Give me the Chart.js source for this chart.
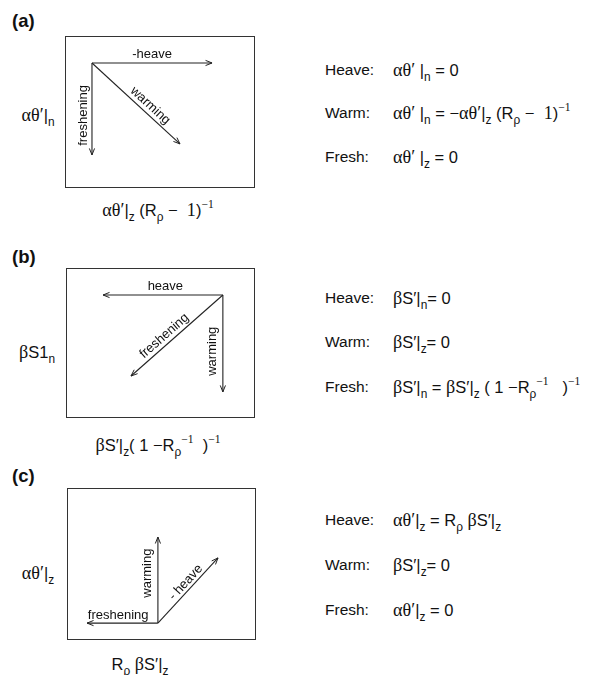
<!DOCTYPE html>
<html>
<head>
<meta charset="utf-8">
<script src="https://cdn.jsdelivr.net/npm/chart.js@4.4.1/dist/chart.umd.min.js"></script>
<style>
  body { margin: 0; background: #fff; }
  #page { position: relative; width: 608px; height: 675px; font-family: "Liberation Sans", Arial, sans-serif; color: #111; overflow: hidden; }
  .t { position: absolute; white-space: nowrap; line-height: 1; font-size: 15.5px; }
  .f { font-size: 16.5px; }
  .c { transform: translate(-50%, -50%); }
  .l { transform: translateY(-50%); }
  .tag { font-weight: bold; font-size: 18.5px; }
  .g { font-family: "Liberation Serif", "DejaVu Serif", serif; font-size: 1.1em; }
  sub { font-size: 0.72em; vertical-align: -0.45em; line-height: 0; }
  sup { font-size: 0.7em; vertical-align: 0.7em; line-height: 0; font-family: "Liberation Serif", serif; }
  .panel { position: absolute; }
</style>
</head>
<body>
<div id="page">
  <!-- panel tags -->
  <div class="t l tag" style="left:12px;top:21px">(a)</div>
  <div class="t l tag" style="left:12px;top:257px">(b)</div>
  <div class="t l tag" style="left:12px;top:476px">(c)</div>

  <!-- axis titles -->
  <div class="t c f" style="left:38px;top:115px"><span class="g">αθ′</span>|<sub>n</sub></div>
  <div class="t c f" style="left:158px;top:210px"><span class="g">αθ′</span>|<sub>z</sub> (R<sub>ρ</sub> − &nbsp;<span class="g">1</span>)<sup>−1</sup></div>
  <div class="t c f" style="left:37px;top:352px"><span class="g">β</span>S1<sub>n</sub></div>
  <div class="t c f" style="left:158px;top:445px"><span class="g">β</span>S′|<sub>z</sub>( 1 −R<sub>ρ</sub><sup>−1</sup> &nbsp;)<sup>−1</sup></div>
  <div class="t c f" style="left:38px;top:573px"><span class="g">αθ′</span>|<sub>z</sub></div>
  <div class="t c f" style="left:140px;top:664px">R<sub>ρ</sub> <span class="g">β</span>S′|<sub>z</sub></div>

  <!-- relations (a) -->
  <div class="t l" style="left:325px;top:70px">Heave:</div>
  <div class="t l f" style="left:393px;top:70px"><span class="g">αθ′</span> |<sub>n</sub> = 0</div>
  <div class="t l" style="left:325px;top:113px">Warm:</div>
  <div class="t l f" style="left:393px;top:113px"><span class="g">αθ′</span> |<sub>n</sub> = −<span class="g">αθ′</span>|<sub>z</sub> (R<sub>ρ</sub> − &nbsp;<span class="g">1</span>)<sup>−1</sup></div>
  <div class="t l" style="left:325px;top:157px">Fresh:</div>
  <div class="t l f" style="left:393px;top:157px"><span class="g">αθ′</span> |<sub>z</sub> = 0</div>

  <!-- relations (b) -->
  <div class="t l" style="left:325px;top:298px">Heave:</div>
  <div class="t l f" style="left:393px;top:298px"><span class="g">β</span>S′|<sub>n</sub>= 0</div>
  <div class="t l" style="left:325px;top:342px">Warm:</div>
  <div class="t l f" style="left:393px;top:342px"><span class="g">β</span>S′|<sub>z</sub>= 0</div>
  <div class="t l" style="left:325px;top:387px">Fresh:</div>
  <div class="t l f" style="left:393px;top:387px"><span class="g">β</span>S′|<sub>n</sub> = <span class="g">β</span>S′|<sub>z</sub> ( 1 −R<sub>ρ</sub><sup>−1</sup> &nbsp;&nbsp;)<sup>−1</sup></div>

  <!-- relations (c) -->
  <div class="t l" style="left:325px;top:520px">Heave:</div>
  <div class="t l f" style="left:393px;top:520px"><span class="g">αθ′</span>|<sub>z</sub> = R<sub>ρ</sub> <span class="g">β</span>S′|<sub>z</sub></div>
  <div class="t l" style="left:325px;top:565px">Warm:</div>
  <div class="t l f" style="left:393px;top:565px"><span class="g">β</span>S′|<sub>z</sub>= 0</div>
  <div class="t l" style="left:325px;top:610px">Fresh:</div>
  <div class="t l f" style="left:393px;top:610px"><span class="g">αθ′</span>|<sub>z</sub> = 0</div>

  <!-- the three vector boxes -->
  <div class="panel" style="left:63px;top:34px;width:194px;height:156px"><canvas id="chartA"></canvas></div>
  <div class="panel" style="left:64px;top:266px;width:193px;height:154px"><canvas id="chartB"></canvas></div>
  <div class="panel" style="left:65px;top:486px;width:193px;height:156px"><canvas id="chartC"></canvas></div>
</div>

<script>
// 面板 (a)：每個箭頭由同一原點出發
const labelsA = ['-heave', 'freshening', 'warming'];
const originA = { x: 1.42, y: 6.58 };
const tipsAX = [7.74, 1.42, 6.05];
const tipsAY = [6.58, 1.74, 2.32];

// 面板 (b)
const labelsB = ['heave', 'freshening', 'warming'];
const originB = { x: 8.3, y: 6.56 };
const tipsBX = [1.96, 3.44, 8.3];
const tipsBY = [6.56, 2.24, 1.39];

// 面板 (c)
const labelsC = ['freshening', 'warming', '- heave'];
const originC = { x: 4.81, y: 0.89 };
const tipsCX = [1.06, 4.81, 7.99];
const tipsCY = [0.89, 5.42, 4.32];

// 框線
const boxPlugin = {
    id: 'box',
    beforeDraw(chart) {
        const { ctx, chartArea: a } = chart;
        ctx.save();
        ctx.strokeStyle = '#333';
        ctx.lineWidth = 1;
        ctx.strokeRect(a.left + 0.5, a.top + 0.5, a.right - a.left - 1, a.bottom - a.top - 1);
        ctx.restore();
    }
};

// 箭頭與沿線文字
const arrowPlugin = {
    id: 'arrowLabels',
    afterDatasetsDraw(chart, args, opts) {
        const ctx = chart.ctx;
        chart.data.datasets.forEach((ds, i) => {
            const pts = chart.getDatasetMeta(i).data;
            const o = pts[0], p = pts[1];
            const ang = Math.atan2(p.y - o.y, p.x - o.x);

            // 開口箭頭
            ctx.save();
            ctx.strokeStyle = '#222';
            ctx.lineWidth = 1;
            ctx.beginPath();
            [0.38, -0.38].forEach(d => {
                ctx.moveTo(p.x, p.y);
                ctx.lineTo(p.x - 7 * Math.cos(ang + d), p.y - 7 * Math.sin(ang + d));
            });
            ctx.stroke();
            ctx.restore();

            // 文字
            const [t, off] = opts.place[i];
            let a = ang;
            if (a > Math.PI / 2 - 0.01) a -= Math.PI;
            if (a < -Math.PI / 2 - 0.01) a += Math.PI;
            const cx = o.x + (p.x - o.x) * t + off * Math.sin(a);
            const cy = o.y + (p.y - o.y) * t - off * Math.cos(a);
            ctx.save();
            ctx.translate(cx, cy);
            ctx.rotate(a);
            ctx.fillStyle = '#111';
            ctx.font = '13px "Liberation Sans", Arial, sans-serif';
            ctx.textAlign = 'center';
            ctx.textBaseline = 'middle';
            ctx.fillText(ds.label, 0, 0);
            ctx.restore();
        });
    }
};

function makePanel(id, labels, origin, tipsX, tipsY, place) {
    const datasets = labels.map((name, i) => ({
        label: name,
        data: [origin, { x: tipsX[i], y: tipsY[i] }],
        showLine: true,
        borderColor: '#222',
        borderWidth: 1.1,
        pointRadius: 0,
        fill: false
    }));

    return new Chart(document.getElementById(id), {
        type: 'scatter',
        data: { datasets },
        options: {
            responsive: true,
            maintainAspectRatio: false,
            animation: false,
            events: [],
            layout: { padding: 2 },
            plugins: {
                legend: { display: false },
                tooltip: { enabled: false },
                arrowLabels: { place }
            },
            scales: {
                x: { type: 'linear', min: 0, max: 10, display: false },
                y: { type: 'linear', min: 0, max: 8, display: false }
            }
        },
        plugins: [boxPlugin, arrowPlugin]
    });
}

makePanel('chartA', labelsA, originA, tipsAX, tipsAY, [[0.5, 9], [0.57, 9], [0.6, 8]]);
makePanel('chartB', labelsB, originB, tipsBX, tipsBY, [[0.48, 9], [0.58, 8], [0.58, 10]]);
makePanel('chartC', labelsC, originC, tipsCX, tipsCY, [[0.56, 8], [0.58, 10], [0.55, 7]]);
</script>
</body>
</html>
